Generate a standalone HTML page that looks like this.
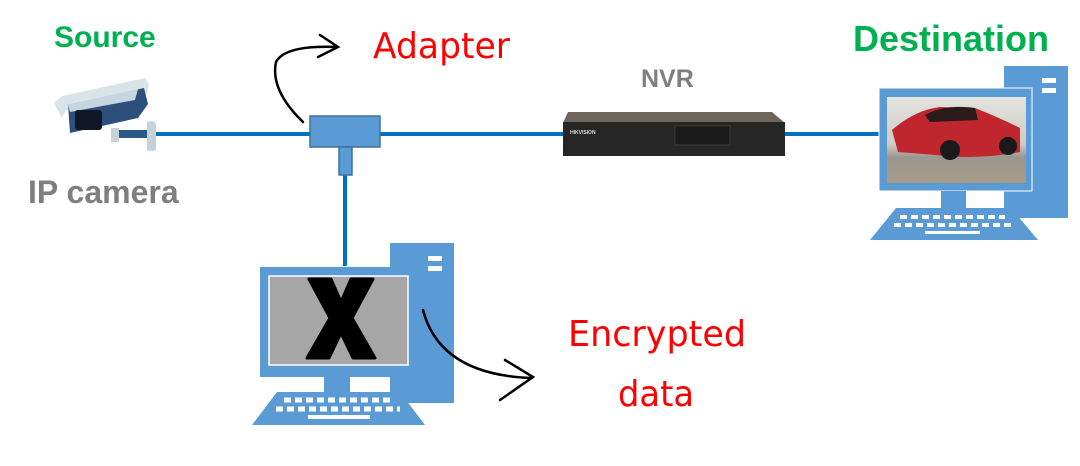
<!DOCTYPE html>
<html><head><meta charset="utf-8"><style>
html,body{margin:0;padding:0;background:#fff;width:1080px;height:466px;overflow:hidden}
svg{display:block}
</style></head><body>
<svg width="1080" height="466" viewBox="0 0 1080 466" xmlns="http://www.w3.org/2000/svg">
<defs>
<linearGradient id="sky" x1="0" y1="0" x2="0" y2="1"><stop offset="0" stop-color="#e2e2de"/><stop offset="0.55" stop-color="#d0ccc4"/><stop offset="0.7" stop-color="#9a9690"/><stop offset="1" stop-color="#a89c88"/></linearGradient>
</defs>
<g stroke="#0070c0" stroke-width="4">
<line x1="155" y1="134" x2="312" y2="134"/>
<line x1="378" y1="134" x2="565" y2="134"/>
<line x1="783" y1="134" x2="880" y2="134"/>
<line x1="345" y1="175" x2="345" y2="266"/>
</g>
<rect x="310" y="116" width="70" height="31" fill="#5b9bd5" stroke="#41719c" stroke-width="1.5"/>
<rect x="339" y="147" width="13" height="28" fill="#5b9bd5" stroke="#41719c" stroke-width="1.5"/>
<polygon points="54,103 62,96 145,78 149,84 147,94 66,110 62,118" fill="#d9e4ea"/>
<polygon points="68,105 144,88 148,104 138,118 70,133" fill="#2c4f7c"/>
<polygon points="68,105 138,89 135,100 70,112" fill="#c6d6e0"/>
<rect x="75" y="110" width="27" height="20" rx="3" fill="#101828"/>
<rect x="112" y="130" width="38" height="8" fill="#2c5a88"/>
<rect x="111" y="128" width="8" height="14" fill="#c7d2d8"/>
<path d="M147,122 Q156,119 156,126 L156,150 Q150,152 147,150 Z" fill="#c7d2d8"/>
<polygon points="568,112 772,112 785,123 563,123" fill="#6e655c"/>
<rect x="563" y="122" width="222" height="34" fill="#262626"/>
<rect x="675" y="126" width="55" height="19" fill="#1a1a1a" stroke="#3a3a3a"/>
<text x="570" y="134" font-family="Liberation Sans,sans-serif" font-size="5" fill="#ddd" font-weight="bold">HIKVISION</text>
<g fill="#5b9bd5">
<rect x="1004" y="66" width="64" height="152"/>
<rect x="879" y="88" width="153" height="103" stroke="#fff" stroke-width="1"/>
<rect x="941" y="191" width="25" height="17"/>
<polygon points="896,208 1011,208 1038,240 870,240"/>
</g>
<rect x="1042" y="78" width="14" height="5" fill="#fff"/><rect x="1042" y="88" width="14" height="5" fill="#fff"/>
<rect x="887" y="97" width="139" height="86" fill="url(#sky)"/>
<path d="M892,130 Q915,110 940,107 L975,108 Q1000,118 1020,128 L1020,152 Q995,157 960,157 L898,152 Z" fill="#c0262e"/>
<path d="M925,115 Q945,104 975,108 L978,120 L930,122 Z" fill="#2a1a1a"/>
<circle cx="950" cy="150" r="10" fill="#1a1a1a"/><circle cx="1008" cy="146" r="9" fill="#1a1a1a"/>
<g stroke="#fff" stroke-width="4" stroke-dasharray="7,4">
<line x1="900" y1="217" x2="1005" y2="217"/><line x1="894" y1="225" x2="1012" y2="225"/>
</g>
<rect x="925" y="231" width="55" height="3" fill="#fff"/>
<g fill="#5b9bd5">
<rect x="390" y="243" width="64" height="160"/>
<rect x="260" y="267" width="158" height="110"/>
<rect x="324" y="377" width="26" height="16"/>
<polygon points="277,392 400,392 425,425 252,425"/>
</g>
<rect x="428" y="256" width="14" height="5" fill="#fff"/><rect x="428" y="266" width="14" height="5" fill="#fff"/>
<rect x="269" y="276" width="139" height="89" fill="#a6a6a6" stroke="#fff" stroke-width="1.5"/>
<polygon points="309,279 331,279 341,302 351,279 373,279 352,318 375,358 353,358 341,333 329,358 307,358 330,318" fill="#000" stroke="#000" stroke-width="3" stroke-linejoin="round"/>
<g stroke="#fff" stroke-width="5" stroke-dasharray="7,4">
<line x1="284" y1="400" x2="392" y2="400"/><line x1="276" y1="409" x2="400" y2="409"/>
</g>
<rect x="308" y="415" width="62" height="4" fill="#fff"/>
<g fill="none" stroke="#000" stroke-width="2.5" stroke-linecap="round">
<path d="M303,122 Q270,90 276,62 Q285,45 337,47"/>
<path d="M320,35 L338,47 L318,57"/>
<path d="M423,310 Q440,375 532,378"/>
<path d="M505,360 L533,377 L500,400"/>
</g>
<g font-family="Liberation Sans,sans-serif" font-weight="bold">
<text x="54" y="47" font-size="30" fill="#00b050">Source</text>
<text x="853" y="51" font-size="36" fill="#00b050">Destination</text>
<text x="28" y="203" font-size="32" fill="#7f7f7f">IP camera</text>
<text x="641" y="87" font-size="25" fill="#7f7f7f">NVR</text>
</g>
<g font-family="'DejaVu Sans',sans-serif" font-size="36" fill="#ff0000" lengthAdjust="spacingAndGlyphs">
<text x="373" y="58" textLength="137" lengthAdjust="spacingAndGlyphs">Adapter</text>
<text x="568" y="346" textLength="178" lengthAdjust="spacingAndGlyphs">Encrypted</text>
<text x="618" y="406" textLength="76" lengthAdjust="spacingAndGlyphs">data</text>
</g>
</svg>
</body></html>
